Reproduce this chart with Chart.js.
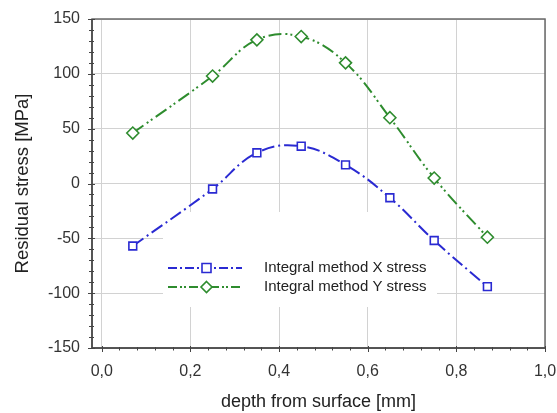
<!DOCTYPE html>
<html>
<head>
<meta charset="utf-8">
<script src="https://cdn.jsdelivr.net/npm/chart.js@4.4.1/dist/chart.umd.min.js"></script>
<style>
html,body{margin:0;padding:0;background:#fff;}
#wrap{width:557px;height:413px;position:relative;}
</style>
</head>
<body>
<div id="wrap"><canvas id="c" width="557" height="413"></canvas></div>
<script>
const depth = [0.07, 0.25, 0.35, 0.45, 0.55, 0.65, 0.75, 0.87];
const xStress = [-57, -5, 28, 34, 17, -13, -52, -94];
const yStress = [46, 98, 131, 134, 110, 60, 5, -49];
const seriesNames = ['Integral method X stress', 'Integral method Y stress'];
const xTicks = [0, 0.2, 0.4, 0.6, 0.8, 1.0];
const yTicks = [-150, -100, -50, 0, 50, 100, 150];

const BLUE = '#2a2ad2';
const GREEN = '#2e8c2e';
const FONT = '"Liberation Sans", Arial, sans-serif';

function pts(xs, ys){ return xs.map((x,i)=>({x:x, y:ys[i]})); }

const frame = {
  id:'frame',
  beforeDatasetsDraw(chart){
    const {ctx} = chart;
    ctx.save();
    ctx.fillStyle = '#fff';
    ctx.fillRect(163, 212, 274, 95);
    ctx.restore();
  },
  afterDraw(chart){
    const {ctx, chartArea:a, scales:{x, y}} = chart;
    ctx.save();
    ctx.strokeStyle = '#6a6a6a';
    ctx.lineWidth = 1.5;
    ctx.strokeRect(a.left, a.top, a.right - a.left, a.bottom - a.top);
    ctx.strokeStyle = '#444';
    ctx.beginPath();
    ctx.moveTo(a.left, a.top); ctx.lineTo(a.left, a.bottom); ctx.lineTo(a.right, a.bottom);
    ctx.stroke();
    ctx.lineWidth = 1;
    ctx.strokeStyle = '#444';
    ctx.beginPath();
    for (let v = -150; v <= 150; v += 10) {
      const py = Math.round(y.getPixelForValue(v)) + 0.5;
      const major = v % 50 === 0;
      ctx.moveTo(a.left - (major ? 4 : 3), py);
      ctx.lineTo(a.left + (major ? 3 : 2), py);
    }
    for (let k = 0; k <= 25; k++) {
      const v = k * 0.04;
      const px = Math.round(x.getPixelForValue(v)) + 0.5;
      const major = k % 5 === 0;
      ctx.moveTo(px, a.bottom - (major ? 2 : 1));
      ctx.lineTo(px, a.bottom + (major ? 4 : 2.5));
    }
    ctx.stroke();
    const rows = [
      {name: seriesNames[0], color: BLUE, dash:[9,3,2,3], style:'rect', yy:268},
      {name: seriesNames[1], color: GREEN, dash:[9,3,2,2,2,3], style:'diamond', yy:287}
    ];
    rows.forEach(r => {
      ctx.strokeStyle = r.color;
      ctx.lineWidth = 2;
      ctx.setLineDash(r.dash);
      ctx.beginPath();
      ctx.moveTo(168, r.yy); ctx.lineTo(242, r.yy);
      ctx.stroke();
      ctx.setLineDash([]);
      ctx.fillStyle = '#fff';
      ctx.lineWidth = 1.6;
      ctx.beginPath();
      if (r.style === 'rect') {
        ctx.rect(202, r.yy - 4.5, 9, 9);
      } else {
        ctx.moveTo(206.5, r.yy - 5.5); ctx.lineTo(212, r.yy); ctx.lineTo(206.5, r.yy + 5.5); ctx.lineTo(201, r.yy); ctx.closePath();
      }
      ctx.fill(); ctx.stroke();
      ctx.fillStyle = '#222';
      ctx.font = '15px ' + FONT;
      ctx.textBaseline = 'middle';
      ctx.textAlign = 'left';
      ctx.fillText(r.name, 264, r.yy);
    });
    ctx.restore();
  }
};

new Chart(document.getElementById('c'), {
  type: 'line',
  data: {
    datasets: [
      {
        label: seriesNames[0],
        data: pts(depth, xStress),
        borderColor: BLUE,
        backgroundColor: '#fff',
        borderWidth: 2,
        borderDash: [13, 4, 2, 4],
        tension: 0.4,
        pointStyle: 'rect',
        pointRadius: 5.5,
        pointBorderWidth: 1.6,
        pointBorderColor: BLUE,
        pointBackgroundColor: '#fff'
      },
      {
        label: seriesNames[1],
        data: pts(depth, yStress),
        borderColor: GREEN,
        backgroundColor: '#fff',
        borderWidth: 2,
        borderDash: [13, 4, 2, 3, 2, 4],
        tension: 0.4,
        pointStyle: 'rectRot',
        pointRadius: 6,
        pointBorderWidth: 1.6,
        pointBorderColor: GREEN,
        pointBackgroundColor: '#fff'
      }
    ]
  },
  options: {
    responsive: false,
    animation: false,
    devicePixelRatio: 1,
    layout: { padding: { top: 19, right: 12, left: 0, bottom: 0 } },
    plugins: { legend: { display: false }, tooltip: { enabled: false } },
    scales: {
      x: {
        type: 'linear',
        min: -0.022,
        max: 1.0,
        afterBuildTicks(s){ s.ticks = xTicks.map(v => ({value: v})); },
        afterFit(s){ s.height = 65; s.paddingLeft = 0; s.paddingRight = 0; },
        grid: { color: '#d2d2d2', lineWidth: 1, drawTicks: false },
        border: { display: false },
        ticks: {
          padding: 14,
          color: '#333',
          font: { family: FONT, size: 16 },
          callback: v => v.toFixed(1).replace('.', ','),
          maxRotation: 0
        },
        title: {
          display: true,
          text: 'depth from surface [mm]',
          color: '#222',
          font: { family: FONT, size: 18 },
          padding: { top: 6, bottom: 0 }
        }
      },
      y: {
        type: 'linear',
        min: -150,
        max: 150,
        afterBuildTicks(s){ s.ticks = yTicks.map(v => ({value: v})); },
        afterFit(s){ s.width = 92; s.paddingTop = 0; s.paddingBottom = 0; },
        grid: { color: '#d2d2d2', lineWidth: 1, drawTicks: false },
        border: { display: false },
        ticks: {
          padding: 12,
          color: '#333',
          font: { family: FONT, size: 16 }
        },
        title: {
          display: true,
          text: 'Residual stress [MPa]',
          color: '#222',
          font: { family: FONT, size: 18.5 },
          padding: { top: 12, bottom: 0 }
        }
      }
    }
  },
  plugins: [frame]
});
</script>
</body>
</html>
